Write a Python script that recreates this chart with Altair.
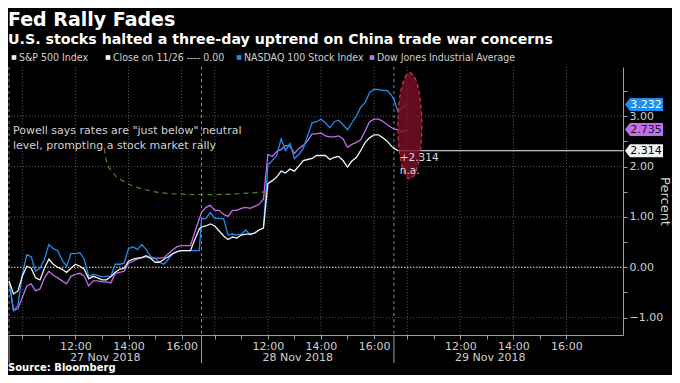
import altair as alt
import pandas as pd

# ---------------- data (percent change vs. close on 11/26) ----------------
SESSION_LABELS = ["27 Nov 2018", "28 Nov 2018", "29 Nov 2018"]
SAMPLE_MINUTES = 10  # one reading every 10 minutes from the 09:30 open

spx_d1 = [-0.27, -0.53, -0.47, -0.18, 0.02, -0.02, -0.21, -0.25, -0.02, 0.16,
          0.06, 0.00, -0.04, -0.10, -0.02, 0.06, 0.02, -0.04, -0.23, -0.18,
          -0.21, -0.25, -0.25, -0.19, -0.10, -0.04, -0.02, 0.12, 0.16, 0.18,
          0.19, 0.23, 0.18, 0.10, 0.10, 0.16, 0.21, 0.27, 0.31, 0.33,
          0.33, 0.33, 0.55, 0.76]
spx_d2 = [0.80, 0.82, 0.86, 0.82, 0.72, 0.62, 0.55, 0.60, 0.58, 0.64,
          0.66, 0.66, 0.68, 0.74, 0.78, 1.66, 1.72, 1.79, 1.91, 1.87,
          1.95, 1.91, 2.01, 2.12, 2.14, 2.16, 2.22, 2.22, 2.22, 2.14,
          2.18, 2.20, 2.12, 1.99, 2.11, 2.18, 2.32, 2.48, 2.57, 2.63,
          2.63, 2.57, 2.50, 2.40]
spx_d3 = [2.36, 2.314]

ndx_d1 = [-0.27, -0.86, -0.76, -0.14, 0.25, 0.21, -0.08, -0.02, 0.16, 0.45,
          0.37, 0.33, 0.14, 0.02, 0.27, 0.27, 0.29, 0.16, -0.18, -0.14,
          -0.16, -0.19, -0.18, -0.18, 0.06, 0.06, 0.08, 0.37, 0.41, 0.35,
          0.45, 0.35, 0.21, 0.18, 0.10, 0.06, 0.16, 0.27, 0.31, 0.33,
          0.33, 0.33, 0.33, 0.33]
ndx_d2 = [0.96, 0.97, 1.09, 0.97, 0.97, 0.96, 0.64, 0.66, 0.64, 0.66,
          0.74, 0.64, 0.68, 0.74, 0.78, 2.03, 2.12, 2.22, 2.55, 2.32,
          2.46, 2.16, 2.24, 2.36, 2.61, 2.87, 2.89, 2.94, 2.87, 2.77,
          2.89, 2.92, 2.83, 2.73, 2.87, 3.00, 3.18, 3.27, 3.47, 3.53,
          3.53, 3.51, 3.51, 3.41]
ndx_d3 = [3.33, 3.08, 3.18, 3.232]

dji_d1 = [-0.27, -0.86, -0.82, -0.60, -0.37, -0.33, -0.47, -0.43, -0.21, -0.08,
          -0.16, -0.21, -0.27, -0.33, -0.18, -0.14, -0.12, -0.18, -0.37, -0.27,
          -0.27, -0.29, -0.29, -0.31, -0.12, -0.10, -0.08, 0.08, 0.12, 0.16,
          0.19, 0.21, 0.18, 0.18, 0.18, 0.19, 0.27, 0.35, 0.41, 0.43,
          0.43, 0.43, 0.70, 0.96]
dji_d2 = [1.09, 1.19, 1.23, 1.13, 1.13, 1.05, 1.01, 1.13, 1.13, 1.17,
          1.19, 1.17, 1.21, 1.25, 1.35, 2.24, 2.20, 2.30, 2.34, 2.42,
          2.40, 2.26, 2.36, 2.42, 2.51, 2.65, 2.65, 2.67, 2.61, 2.59,
          2.59, 2.61, 2.55, 2.38, 2.44, 2.48, 2.53, 2.71, 2.89, 2.94,
          2.94, 2.90, 2.83, 2.77]
dji_d3 = [2.75, 2.73, 2.69, 2.735]

SERIES = ["S&P 500 Index", "NASDAQ 100 Stock Index", "Dow Jones Industrial Average"]
LAST_VALUES = [2.314, 3.232, 2.735]
LEGEND_LABELS = ["S&P 500 Index", "Close on 11/26 ---- 0.00",
                 "NASDAQ 100 Stock Index", "Dow Jones Industrial Average"]
Y_TICKS = [-1.0, -0.5, 0.0, 0.5, 1.0, 1.5, 2.0, 2.5, 3.0, 3.5]
Y_GRID = [-1, 1, 2, 3]
TICK_HOURS = [10, 11, 12, 13, 14, 15, 16]
GRID_HOURS = [10, 12, 14, 16]
NOTE = 'Powell says rates are "just below" neutral\nlevel, prompting a stock market rally'
NOTE_CURVE_POS = [3.59, 3.67, 3.93, 4.41, 5.15, 6.15, 7.40, 8.62, 9.70]
NOTE_CURVE_VAL = [2.36, 2.11, 1.87, 1.68, 1.54, 1.46, 1.44, 1.46, 1.50]
HILITE_POS, HILITE_VAL = 15.10, 2.81
HILITE_TEXT = ["+2.314", "n.a."]

# ---------------- styling / layout ----------------
DAY = 7.25  # compressed length of one session on the axis, in hours
W, H = 615, 268
BG = "#000000"
WHITE = "#f2f2f2"
BLUE = "#1f8ded"
PURPLE = "#c06ff0"
TXT = "#d0d0d0"
GRID = "#555555"
FONT = "DejaVu Sans"
NARROW = "DejaVu Sans Condensed, Liberation Sans Narrow, Liberation Sans"
COLORS = [WHITE, BLUE, PURPLE]

xs = alt.Scale(domain=[-0.04, 23.13], nice=False, zero=False)
ys = alt.Scale(domain=[-1.345, 3.977], nice=False, zero=False)


def pos(day, minutes):
    return day * DAY + minutes / 60.0


rows = []
for name, days in zip(SERIES, [[spx_d1, spx_d2, spx_d3],
                               [ndx_d1, ndx_d2, ndx_d3],
                               [dji_d1, dji_d2, dji_d3]]):
    for d, vals in enumerate(days):
        for i, v in enumerate(vals):
            rows.append({"series": name, "pos": pos(d, i * SAMPLE_MINUTES), "value": v})
df = pd.DataFrame(rows)

tick_pos = [pos(d, (h - 9.5) * 60) for d in range(3) for h in TICK_HOURS]
grid_pos = [pos(d, (h - 9.5) * 60) for d in range(3) for h in GRID_HOURS]
sep_pos = [pos(d, 0) for d in range(3)]

label_expr = ("(round((datum.value % 7.25) * 2) / 2 + 9.5) % 2 == 0 && "
              "(round((datum.value % 7.25) * 2) / 2 + 9.5) >= 12 ? "
              "(round((datum.value % 7.25) * 2) / 2 + 9.5) + ':00' : ''")

x_axis = alt.Axis(values=tick_pos, labelExpr=label_expr, title=None, grid=False,
                  domainColor="#a0a0a0", tickColor="#a0a0a0", tickSize=4,
                  labelColor=TXT, labelFont=FONT, labelFontSize=11, labelPadding=1,
                  labelOverlap=False, labelFlush=False)
y_axis = alt.Axis(orient="right", values=Y_TICKS, grid=False,
                  labelExpr="datum.value % 1 === 0 ? format(datum.value, '.2f') : ''",
                  domainColor="#a0a0a0", tickColor="#a0a0a0", tickSize=4,
                  labelColor=TXT, labelFont=FONT, labelFontSize=11, labelPadding=2,
                  labelOverlap=False, labelFlush=False,
                  title="Percent", titleColor=TXT, titleFont=FONT, titleFontSize=13,
                  titleFontWeight="normal", titleAngle=90, titleX=41, titleY=H / 2,
                  titleAlign="center", titleBaseline="middle")


def X(field):
    return alt.X(f"{field}:Q", scale=xs, axis=x_axis)


def Y(field):
    return alt.Y(f"{field}:Q", scale=ys, axis=y_axis)


layers = []

# grid
layers.append(alt.Chart(pd.DataFrame({"pos": grid_pos})).mark_rule(
    color=GRID, strokeDash=[1, 2], strokeWidth=1).encode(
    x=X("pos"), y=alt.value(0), y2=alt.value(H)))
layers.append(alt.Chart(pd.DataFrame({"v": Y_GRID})).mark_rule(
    color=GRID, strokeDash=[1, 2], strokeWidth=1).encode(
    y=Y("v"), x=alt.value(0), x2=alt.value(W)))
# session separators
layers.append(alt.Chart(pd.DataFrame({"pos": sep_pos})).mark_rule(
    color="#8a8a8a", strokeDash=[3, 3], strokeWidth=1).encode(
    x=X("pos"), y=alt.value(0), y2=alt.value(H)))
layers.append(alt.Chart(pd.DataFrame({"pos": sep_pos})).mark_rule(
    color="#a0a0a0", strokeWidth=1).encode(
    x=X("pos"), y=alt.value(H), y2=alt.value(H + 28)))
# close on 11/26 line
layers.append(alt.Chart(pd.DataFrame({"v": [0.0]})).mark_rule(
    color="#e6e6e6", strokeDash=[1.5, 1.5], strokeWidth=1).encode(
    y=Y("v"), x=alt.value(0), x2=alt.value(W)))
# S&P last price line
spx_last_pos = pos(2, (len(spx_d3) - 1) * SAMPLE_MINUTES)
layers.append(alt.Chart(pd.DataFrame({"pos": [spx_last_pos], "v": [LAST_VALUES[0]]})).mark_rule(
    color=WHITE, strokeWidth=1).encode(x=X("pos"), x2=alt.value(W), y=Y("v")))

# series lines
for name in [SERIES[2], SERIES[1], SERIES[0]]:
    idx = SERIES.index(name)
    layers.append(alt.Chart(df[df.series == name]).mark_line(
        color=COLORS[idx], strokeWidth=1.3).encode(x=X("pos"), y=Y("value")))

# highlighted ellipse
ellipse = "M0,-1A0.226,1,0,1,1,0,1A0.226,1,0,1,1,0,-1Z"
layers.append(alt.Chart(pd.DataFrame({"pos": [HILITE_POS], "v": [HILITE_VAL]})).mark_point(
    shape=ellipse, size=11236, filled=True, fill="#7a1028", fillOpacity=0.82,
    stroke="#c8364f", strokeWidth=1.2, strokeDash=[4, 3], opacity=1).encode(
    x=X("pos"), y=Y("v")))
layers.append(alt.Chart(pd.DataFrame({"pos": [14.72, 14.72], "v": [2.16, 1.91],
                                      "t": HILITE_TEXT})).mark_text(
    align="left", baseline="middle", font=FONT, fontSize=10.5, color="#dddddd").encode(
    x=X("pos"), y=Y("v"), text="t:N"))

# last value tags on the right axis
tag = "M-1,0L-0.74,-0.34L1,-0.34L1,0.34L-0.74,0.34Z"
tag_fill = [WHITE, BLUE, PURPLE]
tag_text = ["#000000", "#ffffff", "#1a1a1a"]
for i, v in enumerate(LAST_VALUES):
    d = pd.DataFrame({"v": [v], "t": [f"{v:.3f}"]})
    layers.append(alt.Chart(d).mark_point(
        shape=tag, size=1444, filled=True, fill=tag_fill[i], strokeWidth=0, opacity=1).encode(
        x=alt.value(W + 21), y=Y("v")))
    layers.append(alt.Chart(d).mark_text(
        align="center", baseline="middle", font=FONT, fontSize=11, color=tag_text[i]).encode(
        x=alt.value(W + 23), y=Y("v"), text="t:N"))

# annotation
layers.append(alt.Chart(pd.DataFrame({"pos": NOTE_CURVE_POS, "v": NOTE_CURVE_VAL})).mark_line(
    color="#5f8020", strokeDash=[5, 4], strokeWidth=1.2, interpolate="monotone").encode(
    x=X("pos"), y=Y("v")))
layers.append(alt.Chart(pd.DataFrame({"t": [NOTE]})).mark_text(
    align="left", baseline="alphabetic", lineBreak="\n", lineHeight=14.5,
    font=FONT, fontSize=11, color=TXT).encode(
    x=alt.value(5), y=alt.value(67), text="t:N"))

# session date labels
layers.append(alt.Chart(pd.DataFrame({"pos": [d * DAY + DAY / 2 for d in range(3)],
                                      "t": SESSION_LABELS})).mark_text(
    align="center", baseline="top", font=FONT, fontSize=11, color=TXT).encode(
    x=X("pos"), y=alt.value(H + 17), text="t:N"))

# titles, legend, source
layers.append(alt.Chart(pd.DataFrame({"t": ["Fed Rally Fades"]})).mark_text(
    align="left", baseline="alphabetic", font=FONT, fontSize=19, fontWeight="bold",
    color="#ffffff").encode(x=alt.value(0), y=alt.value(-41.3), text="t:N"))
layers.append(alt.Chart(pd.DataFrame({"t": ["U.S. stocks halted a three-day uptrend on China trade war concerns"]})).mark_text(
    align="left", baseline="alphabetic", font=FONT, fontSize=14.2, fontWeight="bold",
    color="#ffffff").encode(x=alt.value(0), y=alt.value(-23.5), text="t:N"))
legend_x = [11, 105, 236, 369]
legend_colors = [WHITE, WHITE, BLUE, PURPLE]
for lab, lx, lc in zip(LEGEND_LABELS, legend_x, legend_colors):
    d = pd.DataFrame({"t": [lab]})
    layers.append(alt.Chart(d).mark_square(size=22, color=lc, opacity=1).encode(
        x=alt.value(lx - 5), y=alt.value(-9.5)))
    layers.append(alt.Chart(d).mark_text(
        align="left", baseline="middle", font=NARROW, fontSize=10.5, color=TXT).encode(
        x=alt.value(lx), y=alt.value(-9), text="t:N"))
layers.append(alt.Chart(pd.DataFrame({"t": ["Source: Bloomberg"]})).mark_text(
    align="left", baseline="alphabetic", font=FONT, fontSize=10, fontWeight="bold",
    color="#ffffff").encode(x=alt.value(0), y=alt.value(H + 36), text="t:N"))

chart = alt.layer(*layers).properties(
    width=W, height=H, background=BG,
    padding={"left": 0, "top": 59, "right": 49, "bottom": 40},
    autosize=alt.AutoSizeParams(type="none"),
).configure_view(stroke=None)

chart.save("out.html", embed_options={"renderer": "svg", "actions": False})
